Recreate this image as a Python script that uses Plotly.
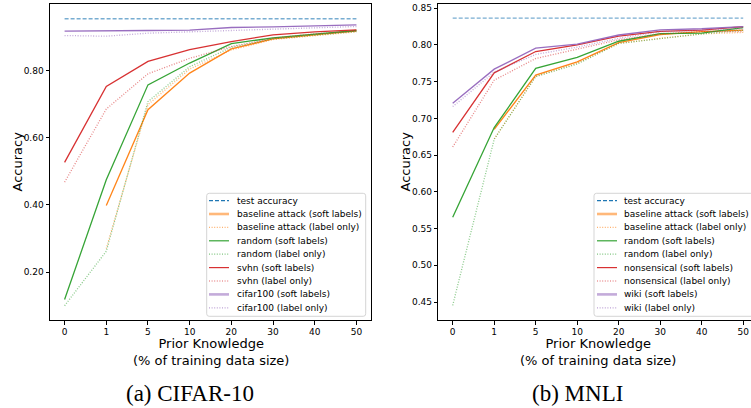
import plotly.graph_objects as go

W, H = 751, 408

prior_labels = ["0", "1", "5", "10", "20", "30", "40", "50"]

# CIFAR-10
cifar_test = 0.955
cifar_baseline_soft = [None, 0.398, 0.684, 0.793, 0.865, 0.895, 0.907, 0.919]
cifar_baseline_label = [None, 0.270, 0.699, 0.805, 0.862, 0.893, 0.905, 0.916]
cifar_random_soft = [0.118, 0.475, 0.758, 0.823, 0.881, 0.898, 0.909, 0.920]
cifar_random_label = [0.0995, 0.262, 0.708, 0.812, 0.870, 0.895, 0.906, 0.917]
cifar_svhn_soft = [0.527, 0.753, 0.828, 0.863, 0.887, 0.907, 0.916, 0.922]
cifar_svhn_label = [0.468, 0.686, 0.791, 0.837, 0.872, 0.897, 0.910, 0.918]
cifar_c100_soft = [0.918, 0.918, 0.920, 0.921, 0.929, 0.931, 0.935, 0.937]
cifar_c100_label = [0.905, 0.903, 0.912, 0.916, 0.920, 0.924, 0.928, 0.932]

# MNLI
mnli_test = 0.8365
mnli_baseline_soft = [None, 0.685, 0.759, 0.777, 0.803, 0.814, 0.818, 0.820]
mnli_baseline_label = [None, 0.672, 0.757, 0.775, 0.802, 0.809, 0.815, 0.817]
mnli_random_soft = [0.5655, 0.6875, 0.768, 0.783, 0.805, 0.8155, 0.816, 0.8235]
mnli_random_label = [0.4455, 0.6715, 0.757, 0.774, 0.802, 0.809, 0.815, 0.820]
mnli_nonsense_soft = [0.681, 0.762, 0.791, 0.800, 0.812, 0.8185, 0.820, 0.825]
mnli_nonsense_label = [0.661, 0.752, 0.7815, 0.794, 0.807, 0.815, 0.818, 0.818]
mnli_wiki_soft = [0.7205, 0.767, 0.7955, 0.801, 0.8135, 0.8205, 0.822, 0.825]
mnli_wiki_label = [0.716, 0.763, 0.787, 0.797, 0.809, 0.818, 0.820, 0.822]

BLUE, ORANGE, GREEN, RED, PURPLE = "#1f77b4", "#ff7f0e", "#2ca02c", "#d62728", "#9467bd"
DOT = "1px,1.6px"
DASH = "4px,2px"

# (name, values, color, dash, plotted opacity, legend width, legend opacity)
left_series = [
    ("test accuracy", [cifar_test] * 8, BLUE, DASH, 0.6, 1.2, 1.0),
    ("baseline attack (soft labels)", cifar_baseline_soft, ORANGE, "solid", 0.95, 2.6, 0.55),
    ("baseline attack (label only)", cifar_baseline_label, ORANGE, DOT, 0.55, 1.2, 0.6),
    ("random (soft labels)", cifar_random_soft, GREEN, "solid", 0.95, 1.2, 0.95),
    ("random (label only)", cifar_random_label, GREEN, DOT, 0.55, 1.2, 0.6),
    ("svhn (soft labels)", cifar_svhn_soft, RED, "solid", 0.95, 1.2, 0.95),
    ("svhn (label only)", cifar_svhn_label, RED, DOT, 0.55, 1.2, 0.7),
    ("cifar100 (soft labels)", cifar_c100_soft, PURPLE, "solid", 0.95, 2.6, 0.55),
    ("cifar100 (label only)", cifar_c100_label, PURPLE, DOT, 0.55, 1.2, 0.6),
]
right_series = [
    ("test accuracy", [mnli_test] * 8, BLUE, DASH, 0.6, 1.2, 1.0),
    ("baseline attack (soft labels)", mnli_baseline_soft, ORANGE, "solid", 0.95, 2.6, 0.55),
    ("baseline attack (label only)", mnli_baseline_label, ORANGE, DOT, 0.55, 1.2, 0.6),
    ("random (soft labels)", mnli_random_soft, GREEN, "solid", 0.95, 1.2, 0.95),
    ("random (label only)", mnli_random_label, GREEN, DOT, 0.55, 1.2, 0.6),
    ("nonsensical (soft labels)", mnli_nonsense_soft, RED, "solid", 0.95, 1.2, 0.95),
    ("nonsensical (label only)", mnli_nonsense_label, RED, DOT, 0.55, 1.2, 0.7),
    ("wiki (soft labels)", mnli_wiki_soft, PURPLE, "solid", 0.95, 2.6, 0.55),
    ("wiki (label only)", mnli_wiki_label, PURPLE, DOT, 0.55, 1.2, 0.6),
]

fig = go.Figure()
for series, xa, ya in [(left_series, "x", "y"), (right_series, "x2", "y2")]:
    for name, vals, col, dash, op, _, _ in series:
        fig.add_trace(go.Scatter(
            x=prior_labels, y=vals, mode="lines", name=name, showlegend=False,
            line=dict(color=col, width=1.3, dash=dash), opacity=op,
            xaxis=xa, yaxis=ya, connectgaps=False))

def px(x):
    return x / W

def py(y):
    return 1 - y / H

FONT = "DejaVu Sans"
ax_common = dict(showgrid=False, zeroline=False, showline=True, linecolor="black",
                 linewidth=1, ticks="outside", ticklen=3.5, tickwidth=0.8, tickcolor="black",
                 tickfont=dict(family=FONT, size=9, color="black"))

fig.update_layout(
    width=W, height=H, margin=dict(l=0, r=0, t=0, b=0),
    paper_bgcolor="white", plot_bgcolor="white",
    xaxis=dict(domain=[px(50), px(371)], range=[-0.35, 7.35], type="category",
               mirror=True, anchor="y", **ax_common),
    yaxis=dict(domain=[py(320), py(4)], range=[0.057, 0.999], tickvals=[0.2, 0.4, 0.6, 0.8],
               tickformat=".2f", mirror=True, anchor="x", **ax_common),
    xaxis2=dict(domain=[px(438.3), 1], range=[-0.347, 7.188], type="category",
                mirror=True, anchor="y2", **ax_common),
    yaxis2=dict(domain=[py(320), py(4)], range=[0.4255, 0.8557],
                tickvals=[0.45, 0.50, 0.55, 0.60, 0.65, 0.70, 0.75, 0.80, 0.85],
                tickformat=".2f", mirror=False, anchor="x2", **ax_common),
)

annotations = []
shapes = []

def text(x, y, s, size, family=FONT, angle=0, xanchor="center"):
    annotations.append(dict(x=px(x), y=py(y), xref="paper", yref="paper", text=s,
                            showarrow=False, xanchor=xanchor, yanchor="middle",
                            textangle=angle, font=dict(family=family, size=size, color="black")))

# axis titles
text(17.5, 162, "Accuracy", 13, angle=-90)
text(405.5, 162, "Accuracy", 13, angle=-90)
text(210.5, 351.5, "Prior Knowledge<br>(% of training data size)", 13)
text(598.3, 351.5, "Prior Knowledge<br>(% of training data size)", 13)

# captions
text(189.5, 393, "(a) CIFAR-10", 23, family="Liberation Serif")
text(577, 393, "(b) MNLI", 23, family="Liberation Serif")

def rounded_rect(x0, y0, x1, y1, r):
    p = []
    p.append(f"M{px(x0 + r)},{py(y0)}")
    p.append(f"L{px(x1 - r)},{py(y0)}")
    p.append(f"Q{px(x1)},{py(y0)} {px(x1)},{py(y0 + r)}")
    p.append(f"L{px(x1)},{py(y1 - r)}")
    p.append(f"Q{px(x1)},{py(y1)} {px(x1 - r)},{py(y1)}")
    p.append(f"L{px(x0 + r)},{py(y1)}")
    p.append(f"Q{px(x0)},{py(y1)} {px(x0)},{py(y1 - r)}")
    p.append(f"L{px(x0)},{py(y0 + r)}")
    p.append(f"Q{px(x0)},{py(y0)} {px(x0 + r)},{py(y0)}Z")
    return " ".join(p)

def legend(series, bx0, bx1, hx0, hx1, tx):
    shapes.append(dict(type="path", xref="paper", yref="paper",
                       path=rounded_rect(bx0, 193.3, bx1, 316.3, 2.5),
                       line=dict(color="#d0d0d0", width=0.9),
                       fillcolor="rgba(255,255,255,0.85)"))
    for i, (name, _, col, dash, _, lw, lop) in enumerate(series):
        yy = 200.6 + 13.4 * i
        shapes.append(dict(type="line", xref="paper", yref="paper",
                           x0=px(hx0), x1=px(hx1), y0=py(yy), y1=py(yy),
                           line=dict(color=col, width=lw, dash=dash), opacity=lop))
        text(tx, yy, name, 9, xanchor="left")

legend(left_series, 206.7, 365.7, 209, 229, 234.5)
legend(right_series, 594, 760, 597, 617, 621.8)

fig.update_layout(annotations=annotations, shapes=shapes)
fig.write_html("out.html")
